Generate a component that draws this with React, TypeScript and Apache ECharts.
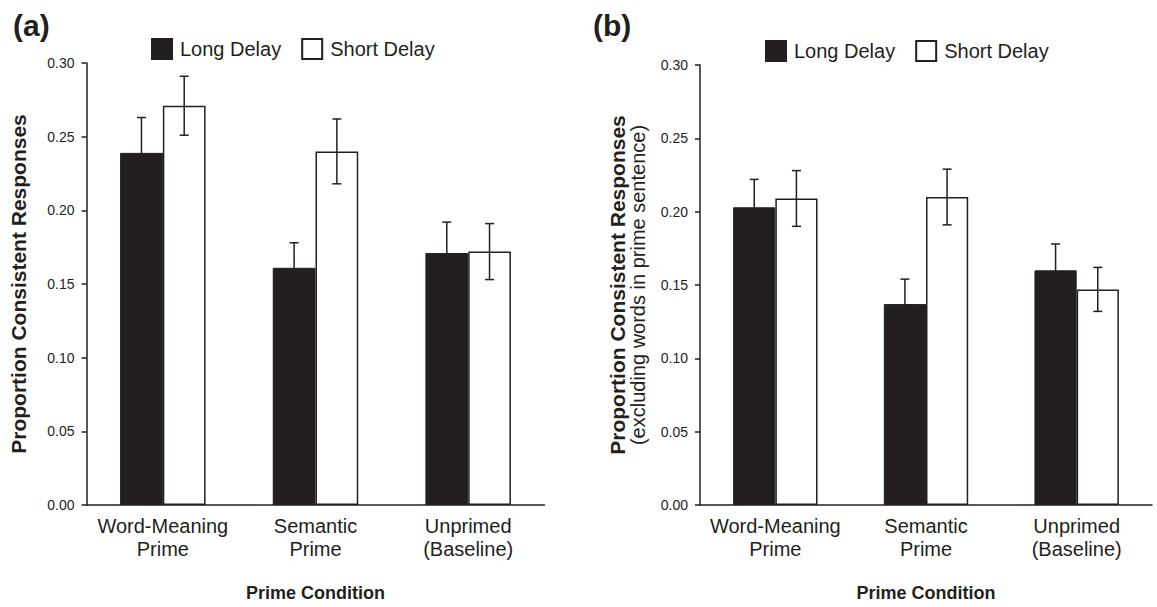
import React, { useEffect, useRef } from "react";
import * as echarts from "echarts";

const categories = ["Word-Meaning\nPrime", "Semantic\nPrime", "Unprimed\n(Baseline)"];
const seriesNames = ["Long Delay", "Short Delay"];
const yTicks = { min: 0, max: 0.3, interval: 0.05 };

// Panel (a)
const aLong = [0.239, 0.161, 0.171];
const aShort = [0.271, 0.24, 0.172];
const aLongErr = [0.024, 0.017, 0.021];
const aShortErr = [0.02, 0.022, 0.019];

// Panel (b)
const bLong = [0.203, 0.137, 0.16];
const bShort = [0.209, 0.21, 0.147];
const bLongErr = [0.019, 0.017, 0.018];
const bShortErr = [0.019, 0.019, 0.015];

const FONT = '"Liberation Sans", Arial, Helvetica, sans-serif';
const INK = "#231f20";
const BAR_FRAC = 0.28;

function errSeries(values: number[], errs: number[], side: number, axis: number) {
  return {
    type: "custom",
    name: "err" + axis + side,
    xAxisIndex: axis,
    yAxisIndex: axis,
    silent: true,
    z: 5,
    data: values.map((v, i) => [i, v, errs[i]]),
    encode: { x: 0, y: 1 },
    renderItem: (params: any, api: any) => {
      const i = api.value(0);
      const v = api.value(1);
      const e = api.value(2);
      const band = api.size([1, 0])[0];
      const dx = side * band * BAR_FRAC * 0.5;
      const top = api.coord([i, v + e]);
      const bot = api.coord([i, v - e]);
      const x = top[0] + dx;
      const cap = 4.5;
      const style = { stroke: INK, lineWidth: 1.5 };
      return {
        type: "group",
        children: [
          { type: "line", shape: { x1: x, y1: top[1], x2: x, y2: bot[1] }, style },
          { type: "line", shape: { x1: x - cap, y1: top[1], x2: x + cap, y2: top[1] }, style },
          { type: "line", shape: { x1: x - cap, y1: bot[1], x2: x + cap, y2: bot[1] }, style },
        ],
      };
    },
  };
}

function barSeries(name: string, values: number[], axis: number, filled: boolean) {
  return {
    type: "bar",
    name,
    xAxisIndex: axis,
    yAxisIndex: axis,
    data: values,
    barWidth: BAR_FRAC * 100 + "%",
    barGap: "0%",
    itemStyle: filled
      ? { color: INK, borderColor: INK, borderWidth: 1 }
      : { color: "#ffffff", borderColor: INK, borderWidth: 1.5 },
    emphasis: { disabled: true },
  };
}

function xAxisCfg(grid: number) {
  return {
    type: "category",
    gridIndex: grid,
    data: categories,
    axisLine: { lineStyle: { color: INK, width: 1.5 } },
    axisTick: { length: 5, lineStyle: { color: INK, width: 1.5 } },
    axisLabel: { fontSize: 20, lineHeight: 23, color: INK, margin: 9, interval: 0, fontFamily: FONT },
    name: "Prime Condition",
    nameLocation: "middle",
    nameGap: 79,
    nameTextStyle: { fontSize: 18, fontWeight: "bold", color: INK, fontFamily: FONT },
  };
}

function yAxisCfg(grid: number, name: string, gap: number, rich?: any) {
  return {
    type: "value",
    gridIndex: grid,
    min: yTicks.min,
    max: yTicks.max,
    interval: yTicks.interval,
    axisLine: { show: true, lineStyle: { color: INK, width: 1.5 } },
    axisTick: { show: true, length: 5, lineStyle: { color: INK, width: 1.5 } },
    axisLabel: {
      fontSize: 14,
      color: INK,
      margin: 12,
      fontFamily: FONT,
      formatter: (v: number) => v.toFixed(2),
    },
    splitLine: { show: false },
    name,
    nameLocation: "middle",
    nameGap: gap,
    nameTextStyle: rich
      ? { color: INK, fontFamily: FONT, rich }
      : { fontSize: 21, fontWeight: "bold", color: INK, fontFamily: FONT },
  };
}

export default function App() {
  const ref = useRef<HTMLDivElement>(null);
  useEffect(() => {
    if (!ref.current) return;
    const chart = echarts.init(ref.current, undefined, { renderer: "svg" });
    const legendBase = {
      data: seriesNames,
      icon: "rect",
      itemWidth: 20,
      itemHeight: 20,
      itemGap: 20,
      padding: 0,
      selectedMode: false,
      textStyle: { fontSize: 20, color: INK, fontFamily: FONT, padding: [0, 0, 0, 3] },
    };
    chart.setOption({
      animation: false,
      backgroundColor: "#ffffff",
      textStyle: { fontFamily: FONT, color: INK },
      title: [
        { text: "(a)", left: 13, top: 10, padding: 0, textStyle: { fontSize: 30, fontWeight: "bold", color: INK, fontFamily: FONT } },
        { text: "(b)", left: 593, top: 10, padding: 0, textStyle: { fontSize: 30, fontWeight: "bold", color: INK, fontFamily: FONT } },
      ],
      legend: [
        { ...legendBase, left: 151, top: 38 },
        { ...legendBase, left: 765, top: 40 },
      ],
      grid: [
        { left: 86.5, top: 63, width: 458, height: 452.5 },
        { left: 700, top: 65, width: 452, height: 451 },
      ],
      xAxis: [xAxisCfg(0), xAxisCfg(1)],
      yAxis: [
        yAxisCfg(0, "Proportion Consistent Responses", 58),
        yAxisCfg(
          1,
          "{t|Proportion Consistent Responses}\n{s|(excluding words in prime sentence)}",
          52,
          {
            t: { fontSize: 21, fontWeight: "bold", lineHeight: 21, color: INK, fontFamily: FONT },
            s: { fontSize: 20, lineHeight: 20, color: INK, fontFamily: FONT },
          }
        ),
      ],
      series: [
        barSeries(seriesNames[0], aLong, 0, true),
        barSeries(seriesNames[1], aShort, 0, false),
        barSeries(seriesNames[0], bLong, 1, true),
        barSeries(seriesNames[1], bShort, 1, false),
        errSeries(aLong, aLongErr, -1, 0),
        errSeries(aShort, aShortErr, 1, 0),
        errSeries(bLong, bLongErr, -1, 1),
        errSeries(bShort, bShortErr, 1, 1),
      ],
    });
    return () => chart.dispose();
  }, []);
  return (
    <div
      ref={ref}
      style={{ position: "absolute", left: 0, top: 0, width: 1157, height: 607, background: "#fff" }}
    />
  );
}
